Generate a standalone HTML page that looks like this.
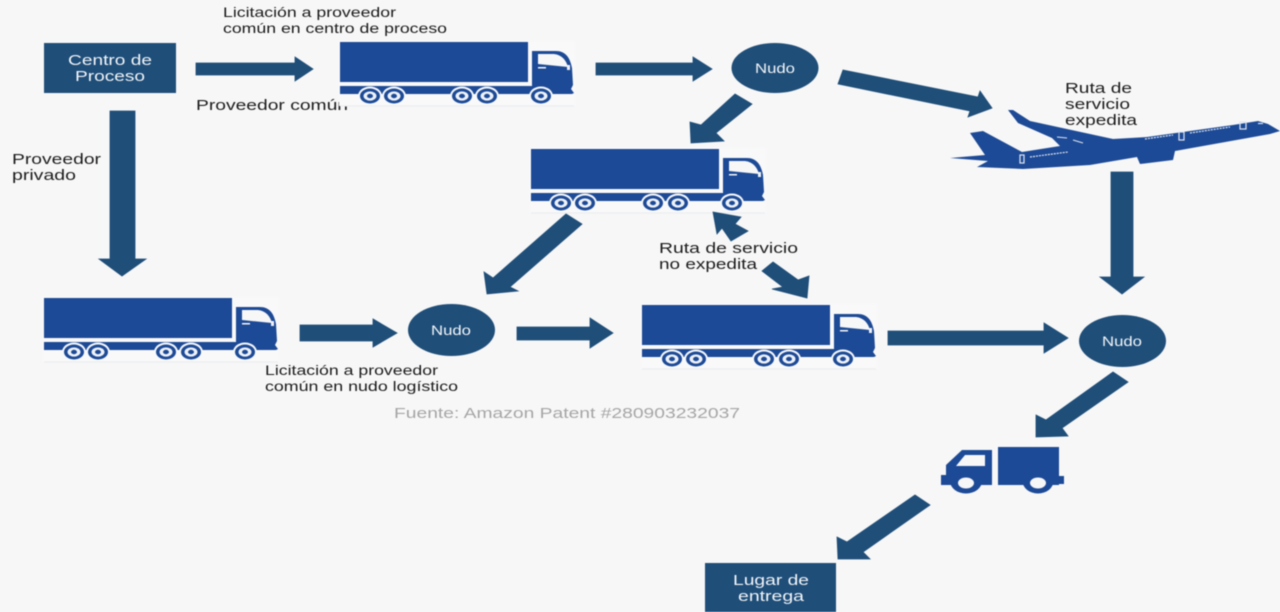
<!DOCTYPE html>
<html lang="es">
<head>
<meta charset="utf-8">
<title>Diagrama de logística</title>
<style>
html,body{margin:0;padding:0;background:#f7f7f7;width:1280px;height:612px;overflow:hidden}
svg{display:block;filter:blur(.4px)}
text{font-family:"Liberation Sans",sans-serif;font-size:15px;fill:#1c1c1c}
.w{fill:#f2f5f8;font-size:15px}
.n{fill:#f2f5f8;font-size:13.5px}
.s{font-size:14px}
</style>
</head>
<body>
<svg width="1280" height="612" viewBox="0 0 1280 612" xmlns="http://www.w3.org/2000/svg">
<defs>
<g id="wheel">
<ellipse rx="12" ry="9.500" fill="#f7f9fb"/>
<ellipse rx="10" ry="7.500" fill="#1d4a96"/>
<ellipse rx="6.500" ry="4.600" fill="#eef2f8"/>
<ellipse rx="3" ry="2.200" fill="#1d4a96"/>
</g>
<g id="truck">
<rect x="-1" y="-1" width="236" height="65" fill="#f9f9f9"/>
<rect x="0" y="0" width="188" height="40" fill="#1d4a96"/>
<path d="M0 44H192V9H216C225 9 230 15 232 26L233 43L231 47L234 51L232 52H0Z" fill="#1d4a96"/>
<path d="M198 12H214C222 13 226 18 228 25L218 24L198 22Z" fill="#f7f7f7"/>
<rect x="198" y="25" width="8" height="1.500" fill="#f7f7f7"/>
<rect x="227" y="23" width="3" height="5" fill="#eef2f8"/>
<use href="#wheel" x="30" y="54"/>
<use href="#wheel" x="54" y="54"/>
<use href="#wheel" x="122" y="54"/>
<use href="#wheel" x="147" y="54"/>
<use href="#wheel" x="201" y="54"/>
<rect x="0" y="63.500" width="234" height="1" fill="#e8eaee"/>
</g>
</defs>

<rect width="1280" height="612" fill="#f7f7f7"/>

<!-- label underlapping the truck background -->
<text x="196" y="110" textLength="152" lengthAdjust="spacingAndGlyphs">Proveedor común</text>

<!-- boxes -->
<rect x="44" y="43" width="132" height="50" fill="#1f4e79"/>
<text class="w" x="110" y="65" text-anchor="middle" textLength="84" lengthAdjust="spacingAndGlyphs">Centro de</text>
<text class="w" x="110" y="81" text-anchor="middle" textLength="70" lengthAdjust="spacingAndGlyphs">Proceso</text>
<rect x="705" y="563" width="131" height="49" fill="#1f4e79"/>
<text class="w" x="771" y="585" text-anchor="middle" textLength="76" lengthAdjust="spacingAndGlyphs">Lugar de</text>
<text class="w" x="771" y="601" text-anchor="middle" textLength="66" lengthAdjust="spacingAndGlyphs">entrega</text>

<!-- nodes -->
<ellipse cx="775" cy="68" rx="43.500" ry="25" fill="#1f4e79"/>
<text class="n" x="775" y="73" text-anchor="middle" textLength="40" lengthAdjust="spacingAndGlyphs">Nudo</text>
<ellipse cx="451.500" cy="330" rx="43.500" ry="26" fill="#1f4e79"/>
<text class="n" x="451" y="335" text-anchor="middle" textLength="40" lengthAdjust="spacingAndGlyphs">Nudo</text>
<ellipse cx="1122.500" cy="341" rx="43.500" ry="26" fill="#1f4e79"/>
<text class="n" x="1122" y="346" text-anchor="middle" textLength="40" lengthAdjust="spacingAndGlyphs">Nudo</text>

<!-- trucks -->
<use href="#truck" x="340" y="42"/>
<use href="#truck" x="531" y="149"/>
<use href="#truck" x="44" y="298"/>
<use href="#truck" x="642" y="305"/>

<!-- small truck -->
<g fill="#1d4a96">
<rect x="998" y="447" width="61" height="38"/>
<rect x="1059" y="476" width="5" height="8"/>
<path d="M941 475H946V465L962 450H992V485H941Z"/>
</g>
<path d="M956 466L965 455H985V466Z" fill="#f7f7f7"/>
<ellipse cx="966" cy="481" rx="16" ry="12.500" fill="#1d4a96"/>
<ellipse cx="966" cy="483" rx="8" ry="5.500" fill="#f7f7f7"/>
<ellipse cx="1038" cy="481" rx="15.500" ry="12.500" fill="#1d4a96"/>
<ellipse cx="1038" cy="483" rx="8" ry="5.500" fill="#f7f7f7"/>

<!-- plane -->
<path fill="#1d4a96" d="M970 133L983 131L1022 152L1060 146L1052 138L1018 123L1008 110L1013 110L1030 121L1113 139L1147 137L1233 125L1258 121L1268 124L1280 131L1270 134L1175 151L1173 160L1140 164L1137 157L1090 165L1023 169L977 167L988 161L950 158L985 155Z"/>
<g stroke="#dfe6f2" fill="none" stroke-width="1.200">
<path d="M1030 157L1068 152" stroke-dasharray="2 1"/>
<path d="M1145 139L1173 135" stroke-dasharray="2 1"/>
<path d="M1190 133L1230 127" stroke-dasharray="2 1"/>
<path d="M1057 137L1067 138M1073 140L1083 143" stroke-width="1"/>
<rect x="1020" y="155" width="4" height="8"/>
<rect x="1179" y="132" width="5" height="8"/>
<rect x="1240" y="122" width="6" height="7"/>
<path d="M1258 123.500H1263"/>
</g>

<!-- arrows -->
<g fill="#1f4e79" stroke="#1f4e79" stroke-width=".8" stroke-linejoin="miter">
<path d="M196 63H295V57L313 69L295 81V75H196Z"/>
<path d="M596 63H693V57L712 69L693 81V75H596Z"/>
<path d="M300 325H373V319L397 333L373 347V341H300Z"/>
<path d="M517 327H590V318L613 333L590 348V340H517Z"/>
<path d="M888 331H1044V323L1068 338L1044 353V345H888Z"/>
<path d="M110 111H135V259H146L122 276L99 259H110Z"/>
<path d="M1111 172H1133V277H1144L1122 294L1100 277H1111Z"/>
<path d="M735 94L701 125L690 122L691 143L724 141L716 133L752 104Z"/>
<path d="M843 70L978 97L980 91L992 108L968 117L970 111L838 84Z"/>
<path d="M566 214L582 224L510 287L518 291L487 294L484 272L493 278Z"/>
<path d="M713 212L741 217L735 224L748 231L731 241L722 228L717 234Z"/>
<path d="M773 262L798 280L809 276L807 298L772 289L783 287L762 271Z"/>
<path d="M1113 372L1128 382L1062 428L1068 436L1036 437L1036 415L1046 420Z"/>
<path d="M915 495L930 505L863 552L870 559L838 559L837 537L847 542Z"/>
</g>

<!-- labels -->
<text class="s" x="223" y="17" textLength="173" lengthAdjust="spacingAndGlyphs">Licitación a proveedor</text>
<text class="s" x="223" y="33" textLength="224" lengthAdjust="spacingAndGlyphs">común en centro de proceso</text>
<text x="12" y="164" textLength="89" lengthAdjust="spacingAndGlyphs">Proveedor</text>
<text x="12" y="180" textLength="64" lengthAdjust="spacingAndGlyphs">privado</text>
<text x="1065" y="93" textLength="67" lengthAdjust="spacingAndGlyphs">Ruta de</text>
<text x="1065" y="109" textLength="65" lengthAdjust="spacingAndGlyphs">servicio</text>
<text x="1065" y="125" textLength="72" lengthAdjust="spacingAndGlyphs">expedita</text>
<text x="659" y="253" textLength="139" lengthAdjust="spacingAndGlyphs">Ruta de servicio</text>
<text x="659" y="269" textLength="98" lengthAdjust="spacingAndGlyphs">no expedita</text>
<text class="s" x="265" y="375" textLength="173" lengthAdjust="spacingAndGlyphs">Licitación a proveedor</text>
<text class="s" x="265" y="391" textLength="193" lengthAdjust="spacingAndGlyphs">común en nudo logístico</text>
<text x="394" y="418" style="fill:#a6a6a6" textLength="346" lengthAdjust="spacingAndGlyphs">Fuente: Amazon Patent #280903232037</text>
</svg>
</body>
</html>
